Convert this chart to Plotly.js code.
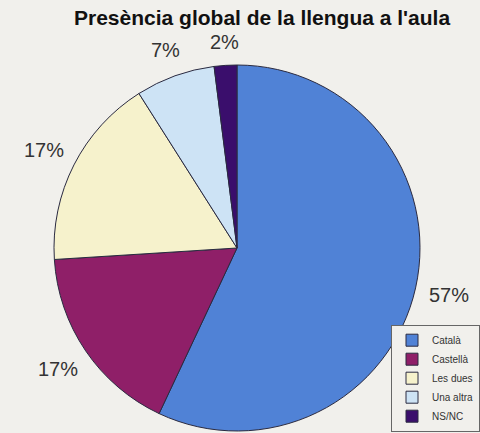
<!DOCTYPE html>
<html><head><meta charset="utf-8">
<script src="https://cdn.plot.ly/plotly-3.0.1.min.js"></script>
<style>html,body{margin:0;padding:0;background:#f1f0ec;}</style>
</head><body>
<div id="chart" style="width:480px;height:433px;"></div>
<script>
const categories = ["Català", "Castellà", "Les dues", "Una altra", "NS/NC"];
const values = [57, 17, 17, 7, 2];
const colors = ["#5082d6", "#8f1f68", "#f6f2cc", "#cde3f5", "#3a0e6c"];

const W = 480, H = 433;
const cx = 237, cy = 248, R = 183;   // pie centre and radius in pixels
const FONT = "Liberation Sans, Arial, sans-serif";

const trace = {
  type: "pie",
  labels: categories,
  values: values,
  sort: false,
  direction: "clockwise",
  rotation: 0,
  marker: {colors: colors, line: {color: "#2a2a40", width: 1}},
  textinfo: "none",
  hoverinfo: "label+percent",
  domain: {x: [(cx - R) / W, (cx + R) / W], y: [1 - (cy + R) / H, 1 - (cy - R) / H]}
};

// percentage labels placed just outside each slice, at its mid angle
const total = values.reduce((a, b) => a + b, 0);
let cum = 0;
const annotations = values.map(v => {
  const mid = (cum + v / 2) / total * 2 * Math.PI;
  cum += v;
  const s = Math.sin(mid), c = Math.cos(mid);
  const r = R + 23 + 12 * Math.abs(s);
  return {
    xref: "paper", yref: "paper",
    x: (cx + r * s) / W, y: 1 - (cy - r * c) / H,
    xanchor: "center", yanchor: "middle",
    text: v + "%", showarrow: false,
    font: {family: FONT, size: 20, color: "#333333"}
  };
});

const layout = {
  width: W, height: H,
  margin: {l: 0, r: 0, t: 0, b: 0},
  paper_bgcolor: "#f1f0ec",
  plot_bgcolor: "#f1f0ec",
  title: {text: "<b>Presència global de la llengua a l'aula</b>", x: 0.546, xanchor: "center", y: 0.959, yanchor: "middle",
          font: {family: FONT, size: 21, color: "#111111"}},
  annotations: annotations,
  showlegend: true,
  legend: {x: 1, xanchor: "right", y: 0.003, yanchor: "bottom",
           bgcolor: "#f1f0ec", bordercolor: "#666666", borderwidth: 1,
           font: {family: FONT, size: 10, color: "#333333"},
           itemwidth: 30, tracegroupgap: 0}
};

Plotly.newPlot("chart", [trace], layout, {displayModeBar: false});
</script>
</body></html>
